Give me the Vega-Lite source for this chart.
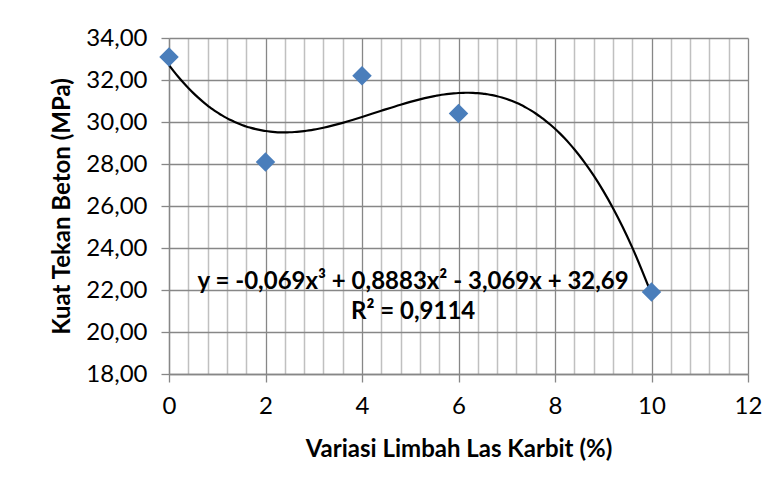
{
  "$schema": "https://vega.github.io/schema/vega-lite/v6.json",
  "width": 579,
  "height": 336,
  "autosize": {"type": "none"},
  "padding": {"left": 169, "top": 38, "right": 32, "bottom": 117},
  "background": "white",
  "config": {
    "font": "Lato",
    "view": {"stroke": null},
    "axis": {
      "labelFont": "Lato",
      "titleFont": "Lato",
      "labelFontSize": 24,
      "titleFontSize": 24,
      "labelColor": "black",
      "titleColor": "black",
      "titleFontWeight": "bold",
      "domainColor": "#878787",
      "tickColor": "#878787",
      "gridColor": "#878787",
      "gridWidth": 1.3,
      "domainWidth": 1.3,
      "tickWidth": 1.3,
      "tickSize": 8,
      "labelOverlap": false
    }
  },
  "datasets": {
    "pts": [
      {"x": 0, "y": 33.1},
      {"x": 2, "y": 28.1},
      {"x": 4, "y": 32.2},
      {"x": 6, "y": 30.4},
      {"x": 10, "y": 21.9}
    ],
    "notes": [
      {"x": 5.06, "y": 22.4, "label": "y = -0,069x³ + 0,8883x² - 3,069x + 32,69"},
      {"x": 5.06, "y": 20.95, "label": "R² = 0,9114"}
    ]
  },
  "resolve": {"axis": {"x": "independent"}},
  "layer": [
    {
      "data": {"name": "pts"},
      "mark": {"type": "point", "opacity": 0},
      "encoding": {
        "x": {
          "field": "x", "type": "quantitative",
          "scale": {"domain": [0, 12], "nice": false, "zero": false},
          "axis": {
            "orient": "bottom",
            "title": null,
            "values": [0.4,0.8,1.2,1.6,2.4,2.8,3.2,3.6,4.4,4.8,5.2,5.6,6.4,6.8,7.2,7.6,8.4,8.8,9.2,9.6,10.4,10.8,11.2,11.6],
            "labels": false,
            "ticks": false,
            "domain": false,
            "grid": true,
            "gridColor": "#c0c0c0",
            "gridWidth": 1.5
          }
        },
        "y": {
          "field": "y", "type": "quantitative",
          "scale": {"domain": [18, 34], "nice": false, "zero": false},
          "axis": {
            "title": "Kuat Tekan Beton (MPa)",
            "values": [18,20,22,24,26,28,30,32,34],
            "labelExpr": "replace(format(datum.value, '.2f'), '.', ',')",
            "labelPadding": 14,
            "titlePadding": 11,
            "labelFlush": false
          }
        }
      }
    },
    {
      "data": {"name": "pts"},
      "mark": {"type": "point", "opacity": 0},
      "encoding": {
        "x": {
          "field": "x", "type": "quantitative",
          "axis": {
            "orient": "bottom",
            "title": "Variasi Limbah Las Karbit (%)",
            "values": [0, 2, 4, 6, 8, 10, 12],
            "grid": true,
            "labelPadding": 12,
            "titlePadding": 19,
            "labelFlush": false
          }
        },
        "y": {"field": "y", "type": "quantitative"}
      }
    },
    {
      "data": {"name": "pts"},
      "transform": [
        {"regression": "y", "on": "x", "method": "poly", "order": 3, "extent": [0, 10]}
      ],
      "mark": {"type": "line", "color": "black", "strokeWidth": 2.2, "interpolate": "monotone"},
      "encoding": {
        "x": {"field": "x", "type": "quantitative", "axis": null},
        "y": {"field": "y", "type": "quantitative"}
      }
    },
    {
      "data": {"name": "pts"},
      "mark": {"type": "point", "shape": "diamond", "filled": true, "size": 380, "color": "#4a7ebb", "opacity": 1},
      "encoding": {
        "x": {"field": "x", "type": "quantitative", "axis": null},
        "y": {"field": "y", "type": "quantitative"}
      }
    },
    {
      "data": {"name": "notes"},
      "mark": {"type": "text", "font": "Lato", "fontSize": 24, "fontWeight": "bold", "color": "black", "align": "center", "baseline": "middle"},
      "encoding": {
        "x": {"field": "x", "type": "quantitative", "axis": null},
        "y": {"field": "y", "type": "quantitative"},
        "text": {"field": "label"}
      }
    }
  ]
}
